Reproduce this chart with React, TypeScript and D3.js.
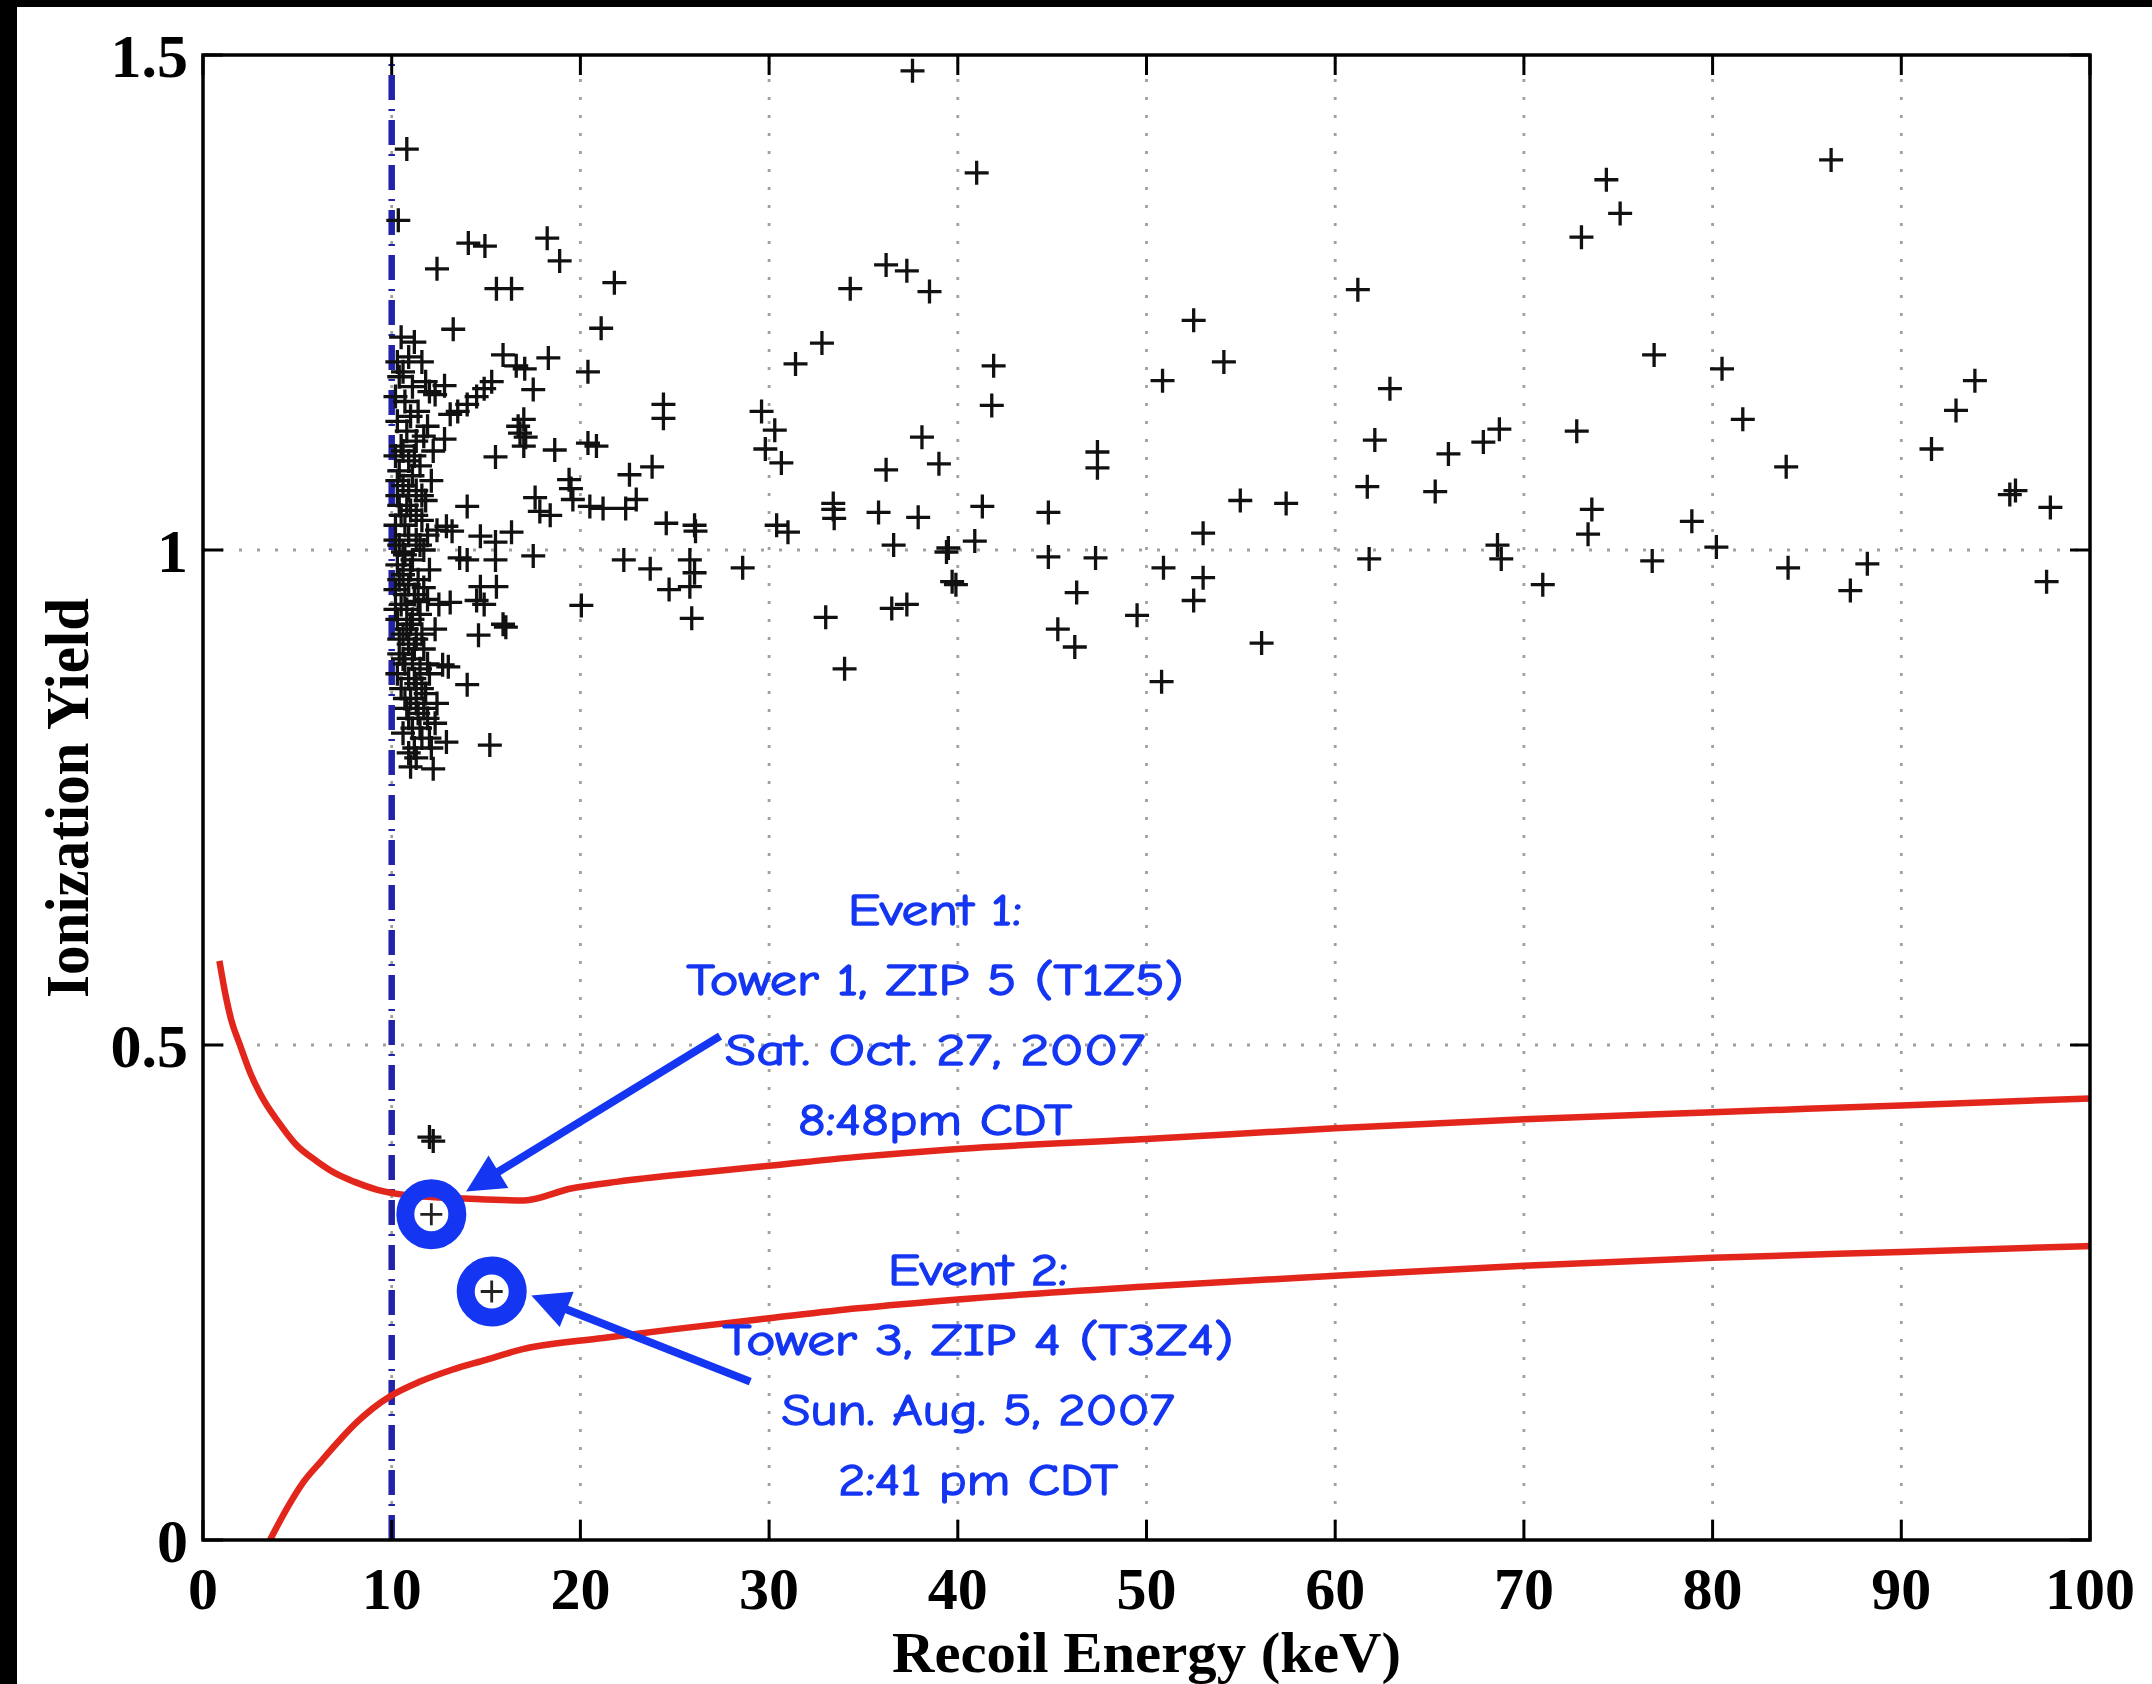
import React from "react";
import * as d3 from "d3";

const W = 2152;
const H = 1684;

// ---- axes ----
const xTickValues = [0, 10, 20, 30, 40, 50, 60, 70, 80, 90, 100];
const xTickLabels = ["0", "10", "20", "30", "40", "50", "60", "70", "80", "90", "100"];
const yTickValues = [0, 0.5, 1, 1.5];
const yTickLabels = ["0", "0.5", "1", "1.5"];
const gridEnergy = [10, 20, 30, 40, 50, 60, 70, 80, 90];
const gridYield = [0.5, 1];
const thresholdEnergy = 10;

// ---- nuclear-recoil band edges (red) ----
const upperBandEnergy = [0.87, 1.2, 1.5, 1.96, 2.5, 3.05, 4, 4.9, 6, 7.05, 8, 9.2, 11, 13.9, 17.0, 19.5, 22, 26.3, 30, 34.7, 40, 50, 60, 70, 80, 90, 100];
const upperBandYield = [0.585, 0.55, 0.525, 0.5, 0.472, 0.45, 0.422, 0.4, 0.383, 0.37, 0.362, 0.354, 0.348, 0.345, 0.343, 0.355, 0.362, 0.371, 0.378, 0.387, 0.395, 0.405, 0.416, 0.425, 0.432, 0.439, 0.446];
const lowerBandEnergy = [3.55, 4.45, 5.3, 6.28, 7.2, 8.1, 9.0, 9.9, 11.5, 13.2, 15, 17, 21.2, 25, 30, 34.7, 40, 50, 60, 70, 80, 90, 100];
const lowerBandYield = [0, 0.032, 0.058, 0.08, 0.1, 0.118, 0.133, 0.145, 0.16, 0.172, 0.182, 0.193, 0.204, 0.213, 0.224, 0.234, 0.243, 0.256, 0.267, 0.277, 0.285, 0.291, 0.297];

// ---- events [recoil energy keV, ionization yield] ----
const thresholdColumnPoints: [number, number][] = [
  [10.8, 1.405], [10.35, 1.333],
  [10.5, 1.215], [11.2, 1.21], [10.9, 1.195], [11.6, 1.19], [10.4, 1.175], [11.1, 1.165], [12.0, 1.16], [10.7, 1.15],
  [11.4, 1.14], [10.3, 1.13], [11.9, 1.125], [10.8, 1.12], [11.3, 1.11], [10.5, 1.105], [12.2, 1.1],
  [10.2, 1.095], [10.9, 1.09], [11.5, 1.085], [10.4, 1.08], [11.1, 1.075], [12.1, 1.07], [10.6, 1.065], [11.3, 1.06],
  [10.3, 1.055], [11.8, 1.05], [10.8, 1.045], [11.0, 1.04], [10.5, 1.035], [11.6, 1.03], [10.2, 1.025], [12.4, 1.02],
  [10.9, 1.015], [11.3, 1.01], [10.4, 1.005], [11.7, 1.0], [10.7, 0.995], [11.1, 0.99], [10.3, 0.985], [12.0, 0.98],
  [10.6, 0.975], [11.4, 0.97], [10.9, 0.965], [10.2, 0.96], [11.2, 0.955], [11.9, 0.95], [10.5, 0.945], [10.8, 0.94],
  [11.5, 0.935], [10.3, 0.93], [11.0, 0.925], [12.3, 0.92], [10.6, 0.915], [11.3, 0.91], [10.9, 0.905], [11.7, 0.9],
  [10.4, 0.895], [11.1, 0.89], [10.7, 0.885], [11.5, 0.88], [12.0, 0.875], [10.9, 0.87], [11.3, 0.865], [10.5, 0.86],
  [11.8, 0.855], [11.0, 0.85], [12.4, 0.845], [10.8, 0.84], [11.4, 0.835], [11.9, 0.83], [11.1, 0.82], [10.6, 0.815],
  [11.6, 0.81], [12.1, 0.8], [10.9, 0.795], [11.3, 0.79], [12.2, 0.779], [11.0, 0.781], [12.9, 0.806],
  [10.3, 1.19], [10.6, 1.18], [11.8, 1.17], [10.2, 1.155], [11.0, 1.135], [11.7, 1.115], [10.6, 1.1], [11.2, 1.095],
  [10.3, 1.07], [10.9, 1.06], [11.6, 1.055], [10.4, 1.045], [11.3, 1.035], [10.7, 1.025], [11.9, 1.015], [10.2, 1.01],
  [11.5, 1.005], [10.6, 0.998], [11.0, 0.98], [10.4, 0.97], [11.7, 0.962], [10.7, 0.955], [11.4, 0.948], [10.2, 0.94],
  [11.1, 0.93], [10.8, 0.92], [11.6, 0.915], [10.4, 0.91], [11.2, 0.9], [10.6, 0.89], [11.9, 0.885], [10.3, 0.875],
  [11.2, 0.87], [11.6, 0.86], [10.7, 0.85], [11.3, 0.845], [11.7, 0.84], [10.9, 0.83], [12.3, 0.825], [11.5, 0.82],
  [12.0, 0.81], [11.2, 0.8],
];
const lowEnergyPoints: [number, number][] = [
  [14.06, 1.31], [14.94, 1.307], [18.24, 1.315], [18.9, 1.292], [12.4, 1.284], [15.55, 1.264], [16.35, 1.264],
  [21.8, 1.27], [21.1, 1.224], [13.26, 1.223], [15.9, 1.197], [16.6, 1.186], [17.05, 1.183], [18.3, 1.194],
  [20.4, 1.18], [17.5, 1.162], [12.8, 1.166], [12.3, 1.157], [15.3, 1.17], [14.9, 1.163], [14.5, 1.155],
  [14.0, 1.147], [13.5, 1.14], [13.1, 1.137], [17.0, 1.132], [16.7, 1.125], [24.4, 1.147], [24.4, 1.133],
  [12.8, 1.112], [15.5, 1.094], [16.8, 1.118], [17.1, 1.114], [17.0, 1.105], [18.64, 1.101], [20.4, 1.108],
  [20.85, 1.105], [23.8, 1.084], [22.6, 1.076], [19.4, 1.071], [19.5, 1.062], [17.6, 1.053], [17.85, 1.039],
  [18.4, 1.035], [19.6, 1.051], [20.5, 1.044], [21.2, 1.042], [22.4, 1.042], [22.96, 1.051], [14.0, 1.044],
  [12.9, 1.024], [13.2, 1.019], [14.7, 1.014], [15.5, 1.008], [16.35, 1.018], [24.55, 1.027], [26.05, 1.025],
  [26.1, 1.019], [17.5, 0.994], [22.3, 0.99], [23.7, 0.981], [24.7, 0.96], [25.8, 0.963], [26.05, 0.977],
  [25.8, 0.99], [25.9, 0.931], [13.6, 0.992], [14.0, 0.99], [15.5, 0.99], [14.7, 0.963], [15.55, 0.963],
  [12.5, 0.945], [13.1, 0.947], [14.5, 0.949], [14.9, 0.945], [15.9, 0.925], [16.05, 0.922], [14.6, 0.914],
  [20.05, 0.944], [12.7, 0.884], [13.0, 0.882], [14.0, 0.864], [15.2, 0.803],
];
const midEnergyPoints: [number, number][] = [
  [37.6, 1.484], [41.0, 1.381], [36.2, 1.288], [37.3, 1.282], [34.3, 1.264], [38.5, 1.261], [32.8, 1.209],
  [31.4, 1.188], [41.9, 1.186], [41.8, 1.146], [52.5, 1.232], [50.85, 1.171], [29.6, 1.14], [30.3, 1.121],
  [29.8, 1.102], [30.65, 1.088], [38.1, 1.114], [39.0, 1.087], [36.2, 1.081], [47.4, 1.099], [47.4, 1.083],
  [33.4, 1.047], [33.4, 1.041], [33.45, 1.032], [35.8, 1.038], [37.9, 1.033], [30.4, 1.025], [31.0, 1.018],
  [41.3, 1.044], [40.9, 1.009], [44.8, 1.038], [36.6, 1.005], [39.5, 1.002], [39.4, 0.998], [39.7, 0.968],
  [39.9, 0.965], [28.6, 0.982], [44.8, 0.993], [47.3, 0.992], [46.3, 0.957], [45.3, 0.92], [46.2, 0.902],
  [49.5, 0.934], [50.9, 0.982], [50.8, 0.867], [33.0, 0.932], [36.5, 0.941], [37.3, 0.945], [34.0, 0.88],
];
const highEnergyPoints: [number, number][] = [
  [74.37, 1.374], [75.1, 1.34], [73.05, 1.316], [61.2, 1.263], [54.1, 1.19], [62.9, 1.163], [76.9, 1.197],
  [62.1, 1.111], [66.0, 1.097], [67.85, 1.109], [68.7, 1.122], [72.8, 1.12], [61.7, 1.064], [65.3, 1.059],
  [54.97, 1.05], [57.4, 1.047], [53.0, 1.017], [73.6, 1.041], [73.4, 1.016], [61.8, 0.991], [68.6, 1.005],
  [68.8, 0.991], [71.0, 0.965], [76.8, 0.989], [53.0, 0.972], [52.5, 0.949], [56.1, 0.906],
  [86.28, 1.394], [80.5, 1.183], [81.6, 1.132], [83.9, 1.084], [78.9, 1.029], [80.2, 1.003], [84.0, 0.982],
  [88.2, 0.986], [87.3, 0.959], [91.6, 1.102], [92.9, 1.141], [93.9, 1.171], [95.75, 1.056], [96.05, 1.06],
  [97.9, 1.043], [97.7, 0.968],
];
const lowYieldPoints: [number, number][] = [[12.0, 0.407], [12.2, 0.403]];

// ---- candidate events ----
const candidateEnergy = [12.1, 15.3];
const candidateYield = [0.329, 0.251];
const arrowTipEnergy = [13.94, 17.4];
const arrowTipYield = [0.352, 0.247];
const arrowTailEnergy = [27.4, 29.0];
const arrowTailYield = [0.509, 0.16];

const event1Lines = ["Event 1:", "Tower 1, ZIP 5 (T1Z5)", "Sat. Oct. 27, 2007", "8:48pm CDT"];
const event2Lines = ["Event 2:", "Tower 3, ZIP 4 (T3Z4)", "Sun. Aug. 5, 2007", "2:41 pm CDT"];
const event1Widths = [174, 497, 420, 274];
const event2Widths = [180, 511, 393, 280];

export default function App() {
  const x = d3.scaleLinear().domain([0, 100]).range([203, 2090]);
  const y = d3.scaleLinear().domain([0, 1.5]).range([1540, 55]);
  const [x0, x1] = x.range();
  const [y0, y1] = y.range();

  const line = d3
    .line<[number, number]>()
    .x((d) => x(d[0]))
    .y((d) => y(d[1]))
    .curve(d3.curveMonotoneX);
  const upper = line(upperBandEnergy.map((e, i) => [e, upperBandYield[i]] as [number, number])) || "";
  const lower = line(lowerBandEnergy.map((e, i) => [e, lowerBandYield[i]] as [number, number])) || "";

  const allPoints = [
    ...thresholdColumnPoints,
    ...lowEnergyPoints,
    ...midEnergyPoints,
    ...highEnergyPoints,
    ...lowYieldPoints,
  ];
  const arm = 12;
  const crossPath = allPoints
    .map(([e, v]) => {
      const cx = x(e), cy = y(v);
      return `M${cx - arm},${cy}H${cx + arm}M${cx},${cy - arm}V${cy + arm}`;
    })
    .join("");
  const evArm = 11;
  const candPath = candidateEnergy
    .map((e, i) => {
      const cx = x(e), cy = y(candidateYield[i]);
      return `M${cx - evArm},${cy}H${cx + evArm}M${cx},${cy - evArm}V${cy + evArm}`;
    })
    .join("");

  const arrows = arrowTipEnergy.map((e, i) => {
    const tx = x(e), ty = y(arrowTipYield[i]);
    const sx = x(arrowTailEnergy[i]), sy = y(arrowTailYield[i]);
    const dx = tx - sx, dy = ty - sy;
    const len = Math.hypot(dx, dy);
    const ux = dx / len, uy = dy / len;
    const hl = 38, hw = 19;
    const bx = tx - ux * hl, by = ty - uy * hl;
    const head = `M${tx},${ty}L${bx - uy * hw},${by + ux * hw}L${bx + uy * hw},${by - ux * hw}Z`;
    return { sx, sy, ex: bx + ux * 4, ey: by + uy * 4, head };
  });

  const serif = "'Liberation Serif', 'Times New Roman', serif";
  const comic = "'Comic Sans MS', 'Comic Neue', 'DejaVu Sans', sans-serif";
  const blue = "#1436f2";
  const block1X = 935, block1Y = 925;
  const block2X = 978, block2Y = 1285;
  const lineGap = 70;

  return (
    <svg
      width={W}
      height={H}
      viewBox={`0 0 ${W} ${H}`}
      style={{ position: "absolute", left: 0, top: 0, display: "block" }}
    >
      <style>{"body{margin:0;overflow:hidden}"}</style>
      <rect x={0} y={0} width={W} height={H} fill="#ffffff" />

      {/* grid */}
      <g stroke="#a0a0a0" strokeWidth={2.8} strokeDasharray="3 15">
        {gridEnergy.map((g) => (
          <line key={"gx" + g} x1={x(g)} x2={x(g)} y1={y0} y2={y1} />
        ))}
        {gridYield.map((g) => (
          <line key={"gy" + g} x1={x0} x2={x1} y1={y(g)} y2={y(g)} />
        ))}
      </g>

      {/* threshold */}
      <line
        x1={x(thresholdEnergy)}
        x2={x(thresholdEnergy)}
        y1={y0}
        y2={y1}
        stroke="#2323a8"
        strokeWidth={6.5}
        strokeDasharray="25 9 2 9"
      />

      {/* band */}
      <defs>
        <clipPath id="plotClip">
          <rect x={x0} y={y1} width={x1 - x0} height={y0 - y1} />
        </clipPath>
      </defs>
      <g clipPath="url(#plotClip)" fill="none" stroke="#e3261c" strokeWidth={6.5} strokeLinejoin="round">
        <path d={upper} />
        <path d={lower} />
      </g>

      {/* events */}
      <path d={crossPath} stroke="#111" strokeWidth={3.3} fill="none" />

      {/* candidates */}
      {candidateEnergy.map((e, i) => (
        <circle key={"c" + i} cx={x(e)} cy={y(candidateYield[i])} r={26} fill="none" stroke={blue} strokeWidth={18} />
      ))}
      <path d={candPath} stroke="#222" strokeWidth={2.8} fill="none" />

      {arrows.map((a, i) => (
        <g key={"a" + i}>
          <line x1={a.sx} y1={a.sy} x2={a.ex} y2={a.ey} stroke={blue} strokeWidth={8} />
          <path d={a.head} fill={blue} />
        </g>
      ))}

      <g fill={blue} stroke={blue} strokeWidth={1.4} fontFamily={comic} fontSize={45} textAnchor="middle">
        {event1Lines.map((t, i) => (
          <text
            key={"e1" + i}
            x={block1X}
            y={block1Y + i * lineGap}
            textLength={event1Widths[i]}
            lengthAdjust="spacingAndGlyphs"
          >
            {t}
          </text>
        ))}
        {event2Lines.map((t, i) => (
          <text
            key={"e2" + i}
            x={block2X}
            y={block2Y + i * lineGap}
            textLength={event2Widths[i]}
            lengthAdjust="spacingAndGlyphs"
          >
            {t}
          </text>
        ))}
      </g>

      {/* frame and ticks */}
      <rect x={x0} y={y1} width={x1 - x0} height={y0 - y1} fill="none" stroke="#000" strokeWidth={3.5} />
      <g stroke="#000" strokeWidth={3}>
        {xTickValues.map((t) => (
          <g key={"xt" + t}>
            <line x1={x(t)} x2={x(t)} y1={y0} y2={y0 - 20} />
            <line x1={x(t)} x2={x(t)} y1={y1} y2={y1 + 20} />
          </g>
        ))}
        {yTickValues.map((t) => (
          <g key={"yt" + t}>
            <line x1={x0} x2={x0 + 20} y1={y(t)} y2={y(t)} />
            <line x1={x1} x2={x1 - 20} y1={y(t)} y2={y(t)} />
          </g>
        ))}
      </g>

      <g fontFamily={serif} fontWeight="bold" fill="#000">
        {xTickValues.map((t, i) => (
          <text key={"xl" + t} x={x(t)} y={1609} fontSize={60} textAnchor="middle">
            {xTickLabels[i]}
          </text>
        ))}
        {yTickValues.map((t, i) => (
          <text key={"yl" + t} x={x0 - 15} y={y(t) + 22} fontSize={62} textAnchor="end">
            {yTickLabels[i]}
          </text>
        ))}
        <text
          x={x(50)}
          y={1672}
          fontSize={57}
          textAnchor="middle"
          textLength={509}
          lengthAdjust="spacingAndGlyphs"
        >
          Recoil Energy (keV)
        </text>
        <text
          transform={`translate(88,798) rotate(-90)`}
          fontSize={62}
          textAnchor="middle"
          textLength={400}
          lengthAdjust="spacingAndGlyphs"
        >
          Ionization Yield
        </text>
      </g>

      {/* black image border */}
      <rect x={0} y={0} width={W} height={7} fill="#000" />
      <rect x={0} y={0} width={17} height={H} fill="#000" />
    </svg>
  );
}
